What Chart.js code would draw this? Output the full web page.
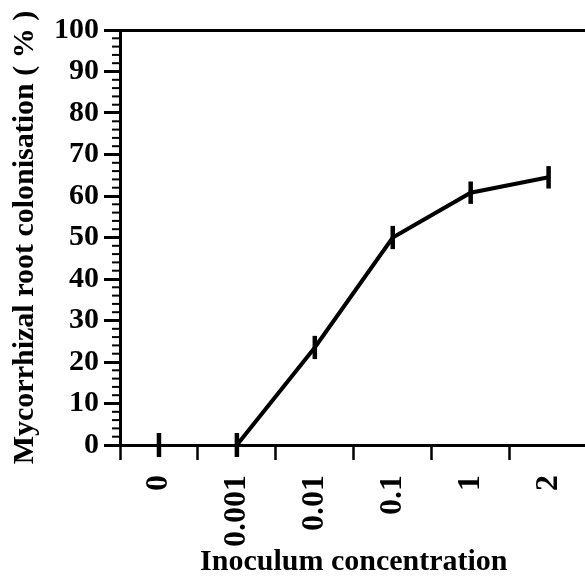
<!DOCTYPE html>
<html>
<head>
<meta charset="utf-8">
<script src="https://cdn.jsdelivr.net/npm/chart.js@4"></script>
<style>
  html, body { margin: 0; padding: 0; background: #fff; overflow: hidden; }
  #wrap { width: 602px; height: 576px; }
</style>
</head>
<body>
<div id="wrap"><canvas id="colonisation"></canvas></div>
<script>
const concentraciones = ['0', '0.001', '0.01', '0.1', '1', '2'];
const colonizacion = [0, 0, 23.5, 50, 60.8, 64.5];
const errores = [2.9, 2.9, 2.8, 2.8, 2.7, 2.7];

const fuente = 'Liberation Serif';

// barras de error y marcas menores del eje y
const extras = {
  id: 'extras',
  afterDatasetsDraw(chart) {
    const ctx = chart.ctx;
    const x = chart.scales.x;
    const y = chart.scales.y;
    ctx.save();
    ctx.strokeStyle = '#000';
    ctx.lineWidth = 4.5;
    for (let i = 0; i < colonizacion.length; i++) {
      const px = x.getPixelForValue(i);
      ctx.beginPath();
      ctx.moveTo(px, y.getPixelForValue(colonizacion[i] - errores[i]));
      ctx.lineTo(px, y.getPixelForValue(colonizacion[i] + errores[i]));
      ctx.stroke();
    }
    ctx.lineWidth = 2;
    for (let v = 2; v < 100; v += 2) {
      if (v % 10 === 0) continue;
      const py = y.getPixelForValue(v);
      ctx.beginPath();
      ctx.moveTo(chart.chartArea.left - 8, py);
      ctx.lineTo(chart.chartArea.left, py);
      ctx.stroke();
    }
    ctx.restore();
  }
};

const ctx = document.getElementById('colonisation');
new Chart(ctx, {
  type: 'line',
  data: {
    labels: concentraciones,
    datasets: [{
      label: 'Colonisation',
      data: colonizacion,
      borderColor: '#000',
      borderWidth: 4,
      pointRadius: 0,
      tension: 0,
      segment: {
        borderColor: c => c.p0DataIndex === 0 ? 'rgba(0,0,0,0)' : '#000'
      }
    }]
  },
  options: {
    responsive: true,
    maintainAspectRatio: false,
    animation: false,
    layout: { padding: { top: 30, right: 0, left: 0, bottom: 0 } },
    plugins: {
      legend: { display: false },
      tooltip: { enabled: false }
    },
    scales: {
      x: {
        offset: true,
        grid: {
          offset: true,
          drawOnChartArea: false,
          tickLength: 15,
          tickColor: '#000',
          tickWidth: 2.5
        },
        border: { color: '#000', width: 3 },
        ticks: {
          color: '#000',
          padding: 15,
          minRotation: 90,
          maxRotation: 90,
          font: { family: fuente, size: 32, weight: 'bold' }
        },
        title: {
          display: true,
          text: 'Inoculum concentration',
          color: '#000',
          padding: { top: 0, bottom: 0 },
          font: { family: fuente, size: 30, weight: 'bold', lineHeight: 0.9 }
        },
        afterFit(scale) { scale.height = 131; }
      },
      y: {
        min: 0,
        max: 100,
        grid: {
          color: c => c.tick && c.tick.value === 100 ? '#000' : 'rgba(0,0,0,0)',
          lineWidth: 3,
          tickLength: 16,
          tickColor: '#000',
          tickWidth: 3
        },
        border: { color: '#000', width: 3 },
        ticks: {
          stepSize: 10,
          color: '#000',
          padding: 5,
          font: { family: fuente, size: 30, weight: 'bold' }
        },
        title: {
          display: true,
          text: 'Mycorrhizal root colonisation ( % )',
          color: '#000',
          padding: { top: 7, bottom: 0 },
          font: { family: fuente, size: 30, weight: 'bold' }
        },
        afterFit(scale) { scale.width = 120; }
      }
    }
  },
  plugins: [extras]
});
</script>
</body>
</html>
